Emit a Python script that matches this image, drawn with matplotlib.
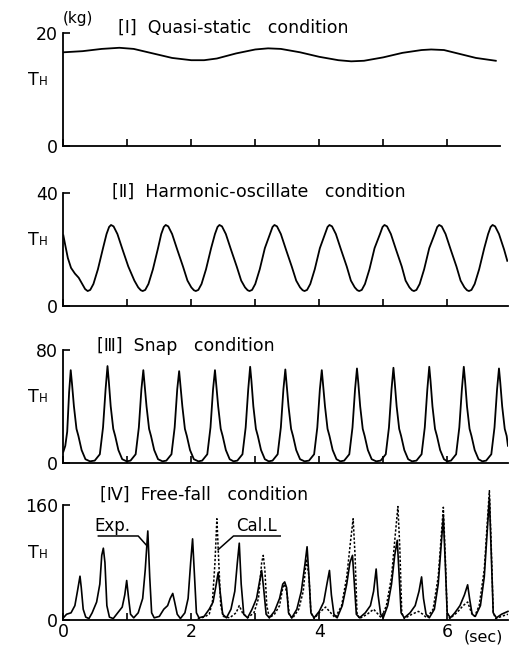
import numpy as np
import matplotlib
matplotlib.use("Agg")
import matplotlib.pyplot as plt

# [I] quasi-static: (time s, tension kg)
quasi = [(0.0, 16.6), (0.3, 16.8), (0.6, 17.2), (0.875, 17.4), (1.1, 17.2), (1.4, 16.4),
         (1.7, 15.6), (2.0, 15.2), (2.2, 15.2), (2.4, 15.5), (2.7, 16.4), (3.0, 17.1),
         (3.2, 17.3), (3.4, 17.2), (3.7, 16.6), (4.0, 15.8), (4.3, 15.2), (4.5, 15.0),
         (4.7, 15.1), (5.0, 15.7), (5.3, 16.5), (5.6, 17.0), (5.75, 17.1), (5.95, 17.0),
         (6.2, 16.3), (6.45, 15.6), (6.76, 15.1)]

# [II] harmonic-oscillate
harmonic = [(0.0, 25), (0.03, 21.5), (0.07, 17), (0.12, 13.5), (0.18, 11.5), (0.24, 10), (0.29, 8),
            (0.34, 6),
            (0.38, 5.3), (0.42, 5.7), (0.47, 7.8), (0.54, 13), (0.62, 20.5), (0.675, 25.5), (0.715, 28),
            (0.745, 28.7), (0.785, 28.2), (0.845, 25.5), (0.925, 20), (1.015, 14), (1.11, 9), (1.17, 6.6),
            (1.21, 5.6),
            (1.24, 5.3), (1.28, 5.7), (1.33, 7.8), (1.40, 13), (1.48, 20.5), (1.53, 25.5), (1.57, 28),
            (1.60, 28.7), (1.64, 28.2), (1.70, 25.5), (1.78, 20), (1.87, 14), (1.94, 9), (2.00, 6.6),
            (2.04, 5.6),
            (2.07, 5.3), (2.11, 5.7), (2.16, 7.8), (2.23, 13), (2.31, 20.5), (2.37, 25.5), (2.41, 28),
            (2.44, 28.7), (2.48, 28.2), (2.54, 25.5), (2.62, 20), (2.71, 14), (2.78, 9), (2.84, 6.6),
            (2.88, 5.6),
            (2.91, 5.3), (2.95, 5.7), (3.00, 7.8), (3.07, 13), (3.15, 20.5), (3.23, 25.5), (3.27, 28),
            (3.30, 28.7), (3.34, 28.2), (3.40, 25.5), (3.48, 20), (3.57, 14), (3.64, 9), (3.70, 6.6),
            (3.74, 5.6),
            (3.77, 5.3), (3.81, 5.7), (3.86, 7.8), (3.93, 13), (4.01, 20.5), (4.09, 25.5), (4.13, 28),
            (4.16, 28.7), (4.20, 28.2), (4.26, 25.5), (4.34, 20), (4.43, 14), (4.495, 9), (4.555, 6.6),
            (4.595, 5.6),
            (4.625, 5.3), (4.665, 5.7), (4.715, 7.8), (4.785, 13), (4.865, 20.5), (4.95, 25.5), (4.99, 28),
            (5.02, 28.7), (5.06, 28.2), (5.12, 25.5), (5.20, 20), (5.29, 14), (5.35, 9), (5.41, 6.6),
            (5.45, 5.6),
            (5.48, 5.3), (5.52, 5.7), (5.57, 7.8), (5.64, 13), (5.72, 20.5), (5.805, 25.5), (5.845, 28),
            (5.875, 28.7), (5.915, 28.2), (5.975, 25.5), (6.055, 20), (6.145, 14), (6.21, 9), (6.27, 6.6),
            (6.31, 5.6),
            (6.34, 5.3), (6.38, 5.7), (6.43, 7.8), (6.50, 13), (6.58, 20.5), (6.64, 25.5), (6.68, 28),
            (6.71, 28.7), (6.75, 28.2), (6.81, 25.5), (6.89, 20), (6.94, 16)]

# [III] snap
snap = [(0.00, 7.8), (0.03, 12), (0.06, 22), (0.09, 50), (0.115, 65.6), (0.135, 56), (0.165, 40),
        (0.205, 24), (0.235, 19), (0.285, 9), (0.345, 2.5), (0.415, 1),
        (0.49, 1.5), (0.57, 6), (0.62, 25), (0.66, 52), (0.69, 68.5), (0.71, 58), (0.74, 40),
        (0.78, 24), (0.81, 19), (0.86, 9), (0.92, 2.5), (0.99, 1),
        (1.05, 1.5), (1.13, 6), (1.18, 25), (1.22, 52), (1.25, 65.6), (1.27, 55), (1.30, 40),
        (1.34, 24), (1.37, 19), (1.42, 9), (1.48, 2.5), (1.55, 1),
        (1.61, 1.5), (1.69, 6), (1.74, 25), (1.78, 52), (1.81, 64.9), (1.83, 55), (1.86, 40),
        (1.90, 24), (1.93, 19), (1.98, 9), (2.04, 2.5), (2.11, 1),
        (2.17, 1.5), (2.25, 6), (2.30, 25), (2.34, 52), (2.37, 65.6), (2.39, 55), (2.42, 40),
        (2.46, 24), (2.49, 19), (2.54, 9), (2.60, 2.5), (2.66, 1),
        (2.72, 1.5), (2.80, 6), (2.85, 25), (2.89, 52), (2.92, 68.0), (2.94, 58), (2.97, 40),
        (3.01, 24), (3.04, 19), (3.09, 9), (3.15, 2.5), (3.21, 1),
        (3.27, 1.5), (3.35, 6), (3.40, 25), (3.44, 52), (3.47, 66.1), (3.49, 56), (3.52, 40),
        (3.56, 24), (3.59, 19), (3.64, 9), (3.70, 2.5), (3.77, 1),
        (3.84, 1.5), (3.92, 6), (3.97, 25), (4.01, 52), (4.04, 65.6), (4.06, 55), (4.09, 40),
        (4.13, 24), (4.16, 19), (4.21, 9), (4.27, 2.5), (4.33, 1),
        (4.39, 1.5), (4.47, 6), (4.52, 25), (4.56, 52), (4.59, 66.8), (4.61, 57), (4.64, 40),
        (4.68, 24), (4.71, 19), (4.76, 9), (4.82, 2.5), (4.89, 1),
        (4.96, 1.5), (5.04, 6), (5.09, 25), (5.13, 52), (5.16, 67.3), (5.18, 57), (5.21, 40),
        (5.25, 24), (5.28, 19), (5.33, 9), (5.39, 2.5), (5.45, 1),
        (5.52, 1.5), (5.60, 6), (5.65, 25), (5.69, 52), (5.72, 68.0), (5.74, 58), (5.77, 40),
        (5.81, 24), (5.84, 19), (5.89, 9), (5.95, 2.5), (6.00, 1),
        (6.06, 1.5), (6.14, 6), (6.19, 25), (6.23, 52), (6.26, 68.0), (6.28, 58), (6.31, 40),
        (6.35, 24), (6.38, 19), (6.43, 9), (6.49, 2.5), (6.55, 1),
        (6.61, 1.5), (6.69, 6), (6.74, 25), (6.78, 52), (6.81, 66.8), (6.83, 57), (6.86, 40),
        (6.90, 24), (6.93, 19), (6.95, 12)]

# [IV] free-fall, experiment
freefall_exp = [(0.00, 3), (0.05, 8), (0.12, 10), (0.18, 20), (0.22, 40), (0.26, 61), (0.28, 45),
                (0.31, 15), (0.35, 4), (0.40, 2), (0.45, 10), (0.52, 25), (0.57, 50), (0.60, 90),
                (0.625, 100), (0.65, 80), (0.68, 20), (0.72, 4), (0.78, 2), (0.85, 10), (0.92, 18),
                (0.96, 35), (0.99, 55), (1.02, 30), (1.05, 8), (1.10, 3), (1.17, 10), (1.24, 30),
                (1.28, 70), (1.32, 124), (1.35, 60), (1.38, 10), (1.42, 3), (1.50, 5), (1.57, 15),
                (1.63, 20), (1.67, 30), (1.71, 37), (1.74, 25), (1.78, 8), (1.83, 2), (1.90, 10),
                (1.95, 30), (1.99, 80), (2.02, 113), (2.05, 60), (2.08, 10), (2.12, 3), (2.20, 5),
                (2.28, 15), (2.34, 25), (2.39, 50), (2.42, 66), (2.45, 40), (2.49, 8), (2.55, 3),
                (2.62, 15), (2.68, 40), (2.72, 80), (2.75, 107), (2.78, 50), (2.82, 8), (2.88, 3),
                (2.95, 15), (3.02, 30), (3.07, 55), (3.10, 69), (3.13, 45), (3.17, 8), (3.22, 3),
                (3.30, 12), (3.38, 30), (3.43, 50), (3.46, 53), (3.49, 45), (3.52, 10), (3.57, 3),
                (3.65, 15), (3.72, 40), (3.78, 80), (3.81, 102), (3.84, 60), (3.87, 10), (3.92, 3),
                (4.00, 12), (4.07, 25), (4.12, 50), (4.16, 69), (4.19, 35), (4.23, 8), (4.28, 3),
                (4.36, 20), (4.43, 50), (4.48, 80), (4.52, 90), (4.55, 50), (4.58, 8), (4.63, 3),
                (4.72, 10), (4.80, 20), (4.85, 40), (4.89, 71), (4.92, 35), (4.96, 8), (5.00, 3),
                (5.07, 20), (5.13, 50), (5.18, 90), (5.22, 111), (5.25, 60), (5.28, 10), (5.33, 3),
                (5.42, 10), (5.50, 20), (5.56, 40), (5.60, 60), (5.63, 30), (5.67, 8), (5.72, 3),
                (5.80, 15), (5.86, 50), (5.91, 110), (5.94, 144), (5.97, 80), (6.00, 10), (6.05, 3),
                (6.12, 10), (6.20, 20), (6.27, 35), (6.32, 49), (6.35, 30), (6.39, 8), (6.44, 5),
                (6.52, 20), (6.58, 60), (6.63, 130), (6.66, 170), (6.69, 90), (6.72, 10), (6.77, 3),
                (6.85, 8), (6.95, 12)]

# [IV] free-fall, calculation
freefall_cal = [(2.10, 2), (2.20, 4), (2.28, 8), (2.33, 25), (2.37, 80), (2.40, 141), (2.43, 80),
                (2.46, 20), (2.50, 5), (2.60, 3), (2.70, 10), (2.75, 20), (2.80, 10), (2.88, 3),
                (2.98, 10), (3.05, 30), (3.10, 80), (3.125, 90), (3.15, 70), (3.18, 20), (3.22, 3),
                (3.30, 8), (3.38, 20), (3.43, 45), (3.46, 50), (3.50, 35), (3.53, 8), (3.58, 2),
                (3.68, 15), (3.75, 40), (3.80, 85), (3.84, 60), (3.87, 10), (3.92, 2), (4.00, 10),
                (4.10, 18), (4.18, 10), (4.25, 3), (4.35, 20), (4.43, 60), (4.49, 110), (4.53, 141),
                (4.56, 90), (4.59, 10), (4.63, 2), (4.75, 8), (4.85, 15), (4.92, 8), (4.97, 3),
                (5.05, 20), (5.13, 60), (5.19, 120), (5.23, 158), (5.26, 100), (5.29, 10), (5.33, 2),
                (5.45, 8), (5.55, 12), (5.62, 8), (5.68, 3), (5.78, 15), (5.86, 60), (5.91, 120),
                (5.94, 157), (5.97, 90), (6.00, 10), (6.04, 2), (6.15, 10), (6.25, 20), (6.32, 25),
                (6.38, 10), (6.43, 5), (6.50, 20), (6.58, 70), (6.63, 140), (6.66, 180), (6.69, 100),
                (6.72, 10), (6.76, 2), (6.85, 5), (6.95, 8)]

titles = ["[Ⅰ]  Quasi-static   condition", "[Ⅱ]  Harmonic-oscillate   condition",
          "[Ⅲ]  Snap   condition", "[Ⅳ]  Free-fall   condition"]
y_max = [20, 40, 80, 160]
title_pos = [(0.123, 1.05), (0.109, 1.01), (0.075, 1.035), (0.083, 1.09)]
x_ticks = [0, 1, 2, 3, 4, 5, 6]
x_labels = ["0", "", "2", "", "4", "", "6"]

# axes boxes in figure fraction (bottom, height)
boxes = [(0.775, 0.174), (0.5285, 0.174), (0.287, 0.174), (0.0447, 0.177)]

fig = plt.figure(figsize=(5.11, 6.49), dpi=100)
plt.rcParams['font.family'] = ['DejaVu Sans']

axes = []
for i, (b, h) in enumerate(boxes):
    ax = fig.add_axes([0.124, b, 0.870, h])
    ax.set_xlim(0, 6.95)
    ax.set_ylim(0, y_max[i])
    ax.spines['top'].set_visible(False)
    ax.spines['right'].set_visible(False)
    ax.spines['left'].set_linewidth(1.3)
    ax.spines['bottom'].set_linewidth(1.3)
    ax.set_yticks([0, y_max[i]])
    ax.set_yticklabels(["0", str(y_max[i])], fontsize=12.5)
    ax.set_xticks(x_ticks)
    if i == 3:
        ax.set_xticklabels(x_labels, fontsize=12.5)
    else:
        ax.set_xticklabels([])
    ax.tick_params(direction='in', length=5, width=1.2, pad=2)
    ax.tick_params(axis='y', pad=4)
    ax.text(title_pos[i][0], title_pos[i][1], titles[i], transform=ax.transAxes,
            fontsize=12.5, va='center', ha='left')
    ax.text(-0.08, 0.54, 'T', transform=ax.transAxes, fontsize=12.5, va='baseline', ha='left')
    ax.annotate('H', xy=(-0.08, 0.54), xycoords='axes fraction', xytext=(8, 0),
                textcoords='offset points', fontsize=8.5, va='baseline', ha='left')
    axes.append(ax)

series = [quasi, harmonic, snap]
for ax, s in zip(axes[:3], series):
    d = np.array(s)
    ax.plot(d[:, 0], d[:, 1], color='black', lw=1.3)
axes[0].spines['bottom'].set_bounds(0, 6.82)

ax = axes[3]
d = np.array(freefall_exp)
ax.plot(d[:, 0], d[:, 1], color='black', lw=1.2, clip_on=False)
d = np.array(freefall_cal)
ax.plot(d[:, 0], d[:, 1], color='black', lw=1.1, ls=(0, (1.5, 1.2)), clip_on=False)

# labels with leader lines
ax.plot([0.547, 1.17, 1.30], [117, 117, 104], color='black', lw=1.1)
ax.text(0.76, 119, 'Exp.', fontsize=12, ha='center', va='bottom')
ax.plot([3.39, 2.66, 2.42], [117, 117, 98], color='black', lw=1.1)
ax.text(3.02, 119, 'Cal.L', fontsize=12, ha='center', va='bottom')

fig.text(0.153, 0.972, '(kg)', fontsize=11, ha='center', va='center')
fig.text(0.945, 0.018, '(sec)', fontsize=11.5, ha='center', va='center')

fig.savefig('out.png', dpi=100)
